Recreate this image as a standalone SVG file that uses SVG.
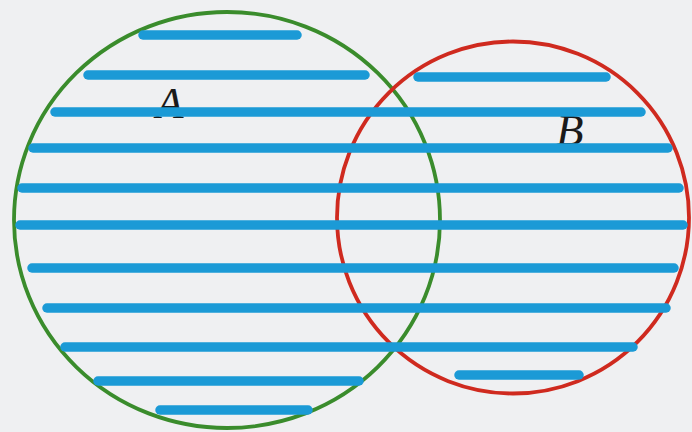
<svg xmlns="http://www.w3.org/2000/svg" width="692" height="432" viewBox="0 0 692 432">
  <style>
    .set { fill: none; stroke-width: 3.8; }
    .a { stroke: #3a8c2c; }
    .b { stroke: #cf2a1f; }
    .lbl { font-family: "Liberation Serif", "DejaVu Serif", serif; font-style: italic; font-size: 45px; fill: #1a1a1a; }
    .h { stroke: #1b9ad6; stroke-width: 9.5; stroke-linecap: round; fill: none; }
  </style>
  <rect width="692" height="432" fill="#eff0f2"/>
  <g id="setA">
    <ellipse class="set a" cx="227" cy="220" rx="213" ry="208"/>
    <text class="lbl" x="156" y="118">A</text>
  </g>
  <g id="setB">
    <circle class="set b" cx="513" cy="217.5" r="176"/>
    <text class="lbl" x="556" y="145">B</text>
  </g>
  <g id="hatching">
    <line class="h" x1="143" y1="35" x2="297" y2="35"/>
    <line class="h" x1="88" y1="75" x2="365" y2="75"/>
    <line class="h" x1="418" y1="77" x2="606" y2="77"/>
    <line class="h" x1="55" y1="112" x2="641" y2="112"/>
    <line class="h" x1="33" y1="148" x2="668" y2="148"/>
    <line class="h" x1="22" y1="188" x2="679" y2="188"/>
    <line class="h" x1="20" y1="225" x2="683" y2="225"/>
    <line class="h" x1="32" y1="268" x2="674" y2="268"/>
    <line class="h" x1="47" y1="308" x2="666" y2="308"/>
    <line class="h" x1="65" y1="347" x2="633" y2="347"/>
    <line class="h" x1="98" y1="381" x2="359" y2="381"/>
    <line class="h" x1="459" y1="375" x2="579" y2="375"/>
    <line class="h" x1="160" y1="410" x2="308" y2="410"/>
  </g>
</svg>
